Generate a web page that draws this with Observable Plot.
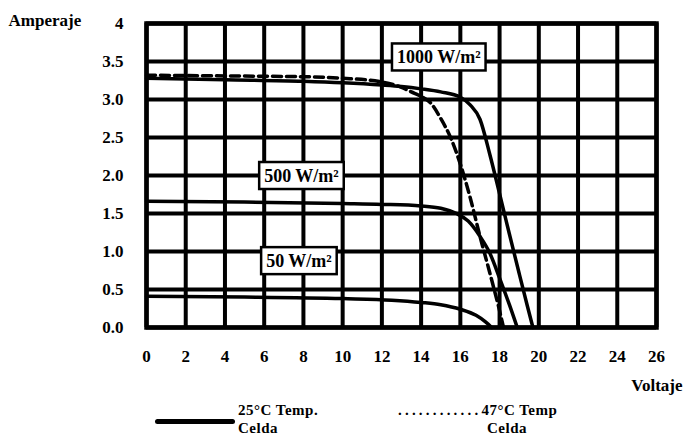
<!DOCTYPE html>
<html>
<head>
<meta charset="utf-8">
<script src="https://cdn.jsdelivr.net/npm/d3@7"></script>
<script src="https://cdn.jsdelivr.net/npm/@observablehq/plot@0.6"></script>
<style>
  body { margin: 0; background: #fff; }
  #chart { width: 683px; height: 443px; overflow: hidden; font-family: "Liberation Serif", "Times New Roman", serif; font-weight: bold; color: #000; }
  #chart svg { display: block; }
  .legend { position: relative; height: 43px; font-size: 15px; line-height: 17.5px; letter-spacing: 0.5px; }
  .legend .swatch { position: absolute; left: 155px; top: 19px; width: 80px; height: 5px; background: #000; border-radius: 2.5px; }
  .legend .item1 { position: absolute; left: 238px; top: 2px; }
  .legend .item2 { position: absolute; left: 398px; top: 2px; }
  .legend .dots { letter-spacing: 3.2px; }
  .legend .item2 .second { margin-left: 89px; }
</style>
</head>
<body>
<div id="chart"></div>
<script>
// Axis ticks and labels
const xTicks = [0, 2, 4, 6, 8, 10, 12, 14, 16, 18, 20, 22, 24, 26];
const xTickLabels = ["0", "2", "4", "6", "8", "10", "12", "14", "16", "18", "20", "22", "24", "26"];
const yTicks = [0, 0.5, 1, 1.5, 2, 2.5, 3, 3.5, 4];
const yTickLabels = ["0.0", "0.5", "1.0", "1.5", "2.0", "2.5", "3.0", "3.5", "4"];

// 1000 W/m², 25 °C (solid)
const volt1000 = [0, 4, 8, 10, 12, 13, 14, 15, 16, 16.5, 17, 17.5, 18, 18.5, 19, 19.4, 19.7];
const amp1000  = [3.28, 3.26, 3.24, 3.22, 3.19, 3.17, 3.14, 3.1, 3.03, 2.93, 2.74, 2.28, 1.76, 1.23, 0.71, 0.3, 0];
// 1000 W/m², 47 °C (dashed)
const volt1000hot = [0, 4, 8, 10, 12, 13, 13.5, 14, 14.5, 15, 15.5, 16, 16.5, 17, 17.5, 18, 18.2];
const amp1000hot  = [3.32, 3.31, 3.3, 3.28, 3.23, 3.16, 3.1, 3.04, 2.95, 2.75, 2.5, 2.15, 1.71, 1.2, 0.72, 0.22, 0];
// 500 W/m², 25 °C
const volt500 = [0, 5, 10, 12, 14, 15, 15.8, 16.4, 17, 17.5, 18, 18.5, 18.9];
const amp500  = [1.66, 1.65, 1.63, 1.62, 1.6, 1.57, 1.5, 1.4, 1.2, 0.98, 0.65, 0.3, 0];
// 50 W/m², 25 °C
const volt50 = [0, 5, 10, 12.5, 14, 15, 16, 16.8, 17.3, 17.6];
const amp50  = [0.41, 0.4, 0.38, 0.36, 0.33, 0.3, 0.24, 0.16, 0.07, 0];

// Irradiance annotations
const irrLabels = ["1000 W/m²", "500 W/m²", "50 W/m²"];
const irrLabelV = [14.9, 7.9, 7.77];
const irrLabelI = [3.55, 1.99, 0.87];

const toRows = (vs, is, series) => vs.map((v, k) => ({v, i: is[k], series}));
const solidSeries = [
  toRows(volt1000, amp1000, "1000"),
  toRows(volt500, amp500, "500"),
  toRows(volt50, amp50, "50")
].flat();
const hotSeries = toRows(volt1000hot, amp1000hot, "1000hot");
const annot = irrLabels.map((t, k) => ({t, v: irrLabelV[k], i: irrLabelI[k]}));

const font = "Liberation Serif, Times New Roman, serif";

const svg = Plot.plot({
  width: 683,
  height: 400,
  marginLeft: 146,
  marginRight: 27,
  marginTop: 23,
  marginBottom: 73,
  style: { fontFamily: font, fontWeight: "bold", fontSize: "17px", color: "#000", background: "#fff" },
  x: { domain: [0, 26] },
  y: { domain: [0, 4] },
  marks: [
    Plot.ruleX(xTicks, { stroke: "#000", strokeWidth: 4 }),
    Plot.ruleY(yTicks, { stroke: "#000", strokeWidth: 4 }),
    Plot.line(solidSeries, { x: "v", y: "i", z: "series", stroke: "#000", strokeWidth: 3.5, curve: "monotone-x" }),
    Plot.line(hotSeries, { x: "v", y: "i", stroke: "#000", strokeWidth: 3.5, strokeDasharray: "9,5", curve: "monotone-x" }),
    Plot.frame({ stroke: "#000", strokeWidth: 4.5 }),
    Plot.axisX({ ticks: xTicks, tickSize: 0, tickPadding: 22, tickFormat: (d) => xTickLabels[xTicks.indexOf(d)], fontSize: 17, label: null }),
    Plot.axisY({ ticks: yTicks, tickSize: 0, tickPadding: 23, tickFormat: (d) => yTickLabels[yTicks.indexOf(d)], fontSize: 17, label: null }),
    Plot.text(annot, { x: "v", y: "i", text: "t", fill: "#000", fontSize: 18, fontWeight: "bold" }),
    Plot.text(["Amperaje"], { frameAnchor: "top-left", dx: -138, dy: -3, textAnchor: "start", lineAnchor: "middle", fontSize: 17, fill: "#000" }),
    Plot.text(["Voltaje"], { frameAnchor: "bottom-right", dx: 26, dy: 58, textAnchor: "end", lineAnchor: "middle", fontSize: 17, fill: "#000" })
  ]
});

const chart = document.getElementById("chart");
chart.appendChild(svg);

// White boxes with black border behind irradiance labels
svg.querySelectorAll("text").forEach((t) => {
  if (!irrLabels.includes(t.textContent)) return;
  const b = t.getBBox();
  const r = document.createElementNS("http://www.w3.org/2000/svg", "rect");
  r.setAttribute("x", b.x - 5);
  r.setAttribute("y", b.y - 4);
  r.setAttribute("width", b.width + 10);
  r.setAttribute("height", b.height + 7);
  r.setAttribute("fill", "#fff");
  r.setAttribute("stroke", "#000");
  r.setAttribute("stroke-width", 2.5);
  const tr = t.getAttribute("transform");
  if (tr) r.setAttribute("transform", tr);
  t.parentNode.insertBefore(r, t);
});

const legend = document.createElement("div");
legend.className = "legend";
legend.innerHTML =
  '<div class="swatch"></div>' +
  '<div class="item1">25°C Temp.<br>Celda</div>' +
  '<div class="item2"><span class="dots">............</span>47°C Temp<br><span class="second">Celda</span></div>';
chart.appendChild(legend);
</script>
</body>
</html>
